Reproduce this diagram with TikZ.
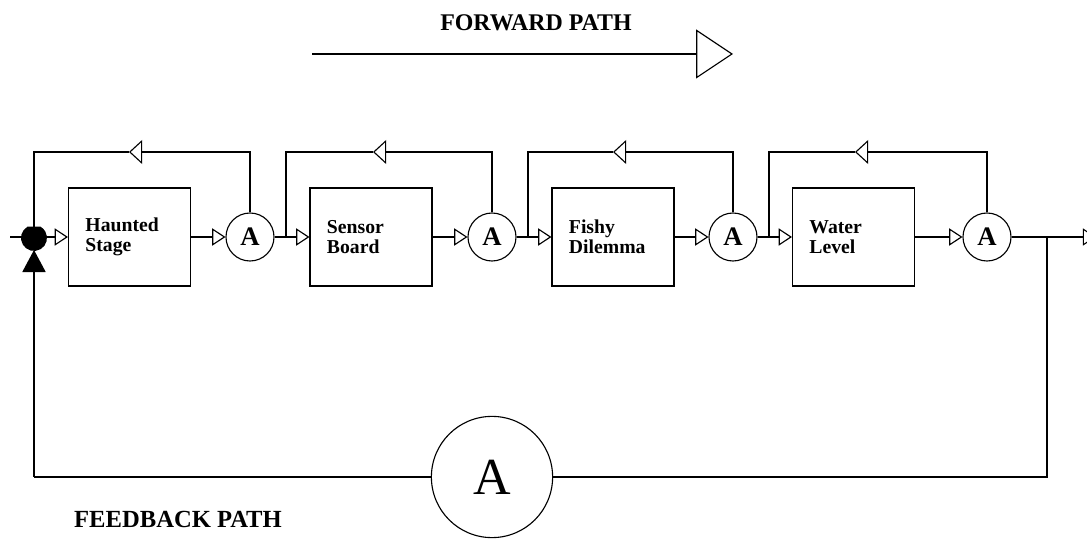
\documentclass[tikz,border=0pt]{standalone}
\usepackage{fontspec}
\setmainfont{Liberation Serif}
\usetikzlibrary{positioning,arrows.meta}
\tikzstyle{ln}=[line width=0.8pt]
\tikzstyle{blk}=[rectangle, draw, line width=0.8pt, minimum width=3.05cm, minimum height=2.45cm, text width=2.2cm, align=left, inner xsep=0.425cm, font=\fontsize{14}{14.5}\selectfont\bfseries]
\tikzstyle{amp}=[circle, draw, line width=0.8pt, minimum size=1.2cm, inner sep=0pt, font=\fontsize{19}{19}\selectfont\bfseries]
\tikzstyle{fw}=[line width=0.8pt, -{Triangle[open,length=0.33cm,width=0.43cm]}]
\tikzstyle{fb}=[line width=0.8pt, -{Triangle[open,length=0.33cm,width=0.6cm]}]

\begin{document}
\begin{tikzpicture}[x=0.025cm, y=-0.025cm]
	\useasboundingbox (0,0) rectangle (1087,544);
	% headings
	\node[font=\fontsize{17}{17}\selectfont\bfseries] (fwd) at (536,23) {FORWARD PATH};
	\node[font=\fontsize{17.5}{17.5}\selectfont\bfseries] (fbk) at (178,519) {FEEDBACK PATH};
	\coordinate (fp0) at (312,54);
	\coordinate (fp1) at (733,54);
	\draw[ln, -{Triangle[open,length=0.92cm,width=1.22cm]}] (fp0) -- (fp1);
	% blocks and amplifiers
	\node[blk] (b1) at (129.5,237) {Haunted\\Stage};
	\node[blk] (b2) at (371,237) {Sensor\\Board};
	\node[blk] (b3) at (613,237) {Fishy\\Dilemma};
	\node[blk] (b4) at (853.5,237) {Water\\Level};
	\node[amp] (a1) at (250,237) {A};
	\node[amp] (a2) at (492,237) {A};
	\node[amp] (a3) at (733,237) {A};
	\node[amp] (a4) at (987,237) {A};
	\node[circle, draw, line width=0.8pt, minimum size=3.03cm, inner sep=0pt, font=\fontsize{37}{37}\selectfont] (big) at (492,477) {A};
	% junction points
	\coordinate (in) at (10,237);
	\coordinate (j0) at (34,237);
	\coordinate (jb) at (34,250);
	\coordinate (bl) at (34,477);
	\coordinate (s2) at (286,237);
	\coordinate (s3) at (528,237);
	\coordinate (s4) at (769,237);
	\coordinate (s5) at (1047,237);
	\coordinate (out) at (1096,237);
	\coordinate (t1) at (129,152);
	\coordinate (t2) at (373,152);
	\coordinate (t3) at (613,152);
	\coordinate (t4) at (855,152);
	% forward line
	\draw[ln] (in) -- (j0);
	\draw[fw] (j0) -- (b1);
	\draw[fw] (b1) -- (a1);
	\draw[ln] (a1) -- (s2);
	\draw[fw] (s2) -- (b2);
	\draw[fw] (b2) -- (a2);
	\draw[ln] (a2) -- (s3);
	\draw[fw] (s3) -- (b3);
	\draw[fw] (b3) -- (a3);
	\draw[ln] (a3) -- (s4);
	\draw[fw] (s4) -- (b4);
	\draw[fw] (b4) -- (a4);
	\draw[ln] (a4) -- (s5);
	\draw[fw] (s5) -- (out);
	% local loops
	\draw[fb] (a1.north) |- (t1);
	\draw[ln] (t1) -| (j0);
	\draw[fb] (a2.north) |- (t2);
	\draw[ln] (t2) -| (s2);
	\draw[fb] (a3.north) |- (t3);
	\draw[ln] (t3) -| (s3);
	\draw[fb] (a4.north) |- (t4);
	\draw[ln] (t4) -| (s4);
	% overall loop
	\draw[ln] (s5) |- (big);
	\draw[ln] (big) -- (bl);
	\draw[ln, -{Triangle[length=0.55cm,width=0.58cm]}] (bl) -- (jb);
	\fill (27.5,226.7) arc[start angle=-120, end angle=-420, radius=13] -- cycle;
\end{tikzpicture}
\end{document}
